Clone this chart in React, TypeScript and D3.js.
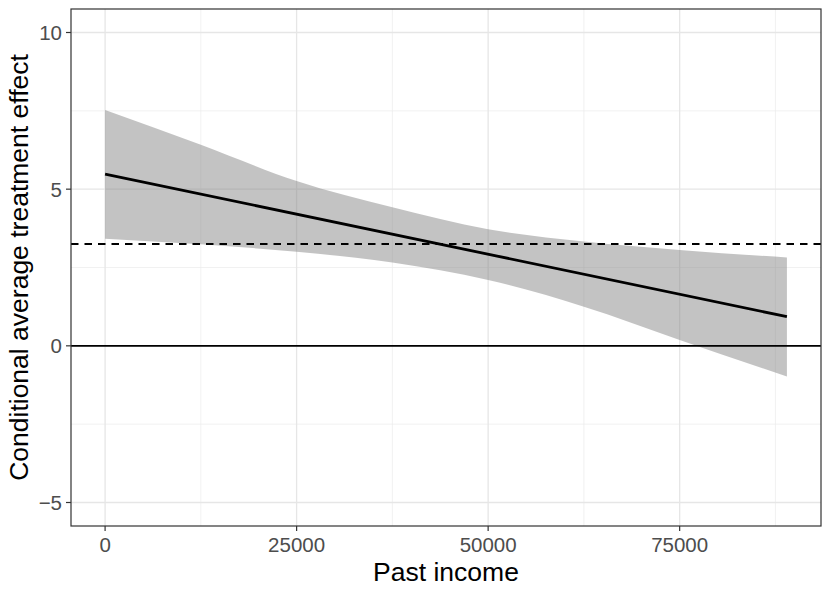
import React from "react";
import * as d3 from "d3";

// Data
const bandX = [0, 12500, 25000, 37500, 50000, 62500, 75000, 89000];
const bandUpper = [7.53, 6.42, 5.26, 4.42, 3.72, 3.33, 3.06, 2.82];
const bandLower = [3.42, 3.24, 3.0, 2.66, 2.1, 1.25, 0.19, -0.98];
const lineX = [0, 89000];
const lineY = [5.48, 0.93];
const averageEffect = 3.25;
const xTicks = [0, 25000, 50000, 75000];
const xMinorTicks = [12500, 37500, 62500, 87500];
const yTicks = [-5, 0, 5, 10];
const yMinorTicks = [-2.5, 2.5, 7.5];
const xTitle = "Past income";
const yTitle = "Conditional average treatment effect";

const W = 830;
const H = 593;
const P = { left: 71, right: 821, top: 9, bottom: 526 };
const FONT = "'Liberation Sans', Arial, Helvetica, sans-serif";

export default function App() {
  const x = d3.scaleLinear().domain([-4450, 93450]).range([P.left, P.right]);
  const y = d3.scaleLinear().domain([-5.75, 10.75]).range([P.bottom, P.top]);

  const band = bandX.map((v, i) => ({ x: v, lo: bandLower[i], hi: bandUpper[i] }));
  const area = d3
    .area<{ x: number; lo: number; hi: number }>()
    .curve(d3.curveMonotoneX)
    .x((d) => x(d.x))
    .y0((d) => y(d.lo))
    .y1((d) => y(d.hi));
  const lineData = lineX.map((v, i) => [v, lineY[i]] as [number, number]);
  const line = d3
    .line<[number, number]>()
    .x((d) => x(d[0]))
    .y((d) => y(d[1]));

  return (
    <svg
      width={W}
      height={H}
      style={{ position: "absolute", left: 0, top: 0, display: "block", background: "#fff" }}
      fontFamily={FONT}
    >
      <rect x={0} y={0} width={W} height={H} fill="#fff" />
      {/* minor grid */}
      {xMinorTicks.map((t) => (
        <line key={"xm" + t} x1={x(t)} x2={x(t)} y1={P.top} y2={P.bottom} stroke="#ebebeb" strokeWidth={0.7} />
      ))}
      {yMinorTicks.map((t) => (
        <line key={"ym" + t} x1={P.left} x2={P.right} y1={y(t)} y2={y(t)} stroke="#ebebeb" strokeWidth={0.7} />
      ))}
      {/* major grid */}
      {xTicks.map((t) => (
        <line key={"xg" + t} x1={x(t)} x2={x(t)} y1={P.top} y2={P.bottom} stroke="#e6e6e6" strokeWidth={1.3} />
      ))}
      {yTicks.map((t) => (
        <line key={"yg" + t} x1={P.left} x2={P.right} y1={y(t)} y2={y(t)} stroke="#e6e6e6" strokeWidth={1.3} />
      ))}
      {/* ribbon */}
      <path d={area(band) || ""} fill="#7f7f7f" fillOpacity={0.47} />
      {/* zero line */}
      <line x1={P.left} x2={P.right} y1={y(0)} y2={y(0)} stroke="#000" strokeWidth={1.8} />
      {/* average effect dashed */}
      <line
        x1={P.left}
        x2={P.right}
        y1={y(averageEffect)}
        y2={y(averageEffect)}
        stroke="#000"
        strokeWidth={1.8}
        strokeDasharray="7.5 6"
      />
      {/* CATE line */}
      <path d={line(lineData) || ""} fill="none" stroke="#000" strokeWidth={2.8} />
      {/* panel border */}
      <rect
        x={P.left}
        y={P.top}
        width={P.right - P.left}
        height={P.bottom - P.top}
        fill="none"
        stroke="#333333"
        strokeWidth={1.2}
      />
      {/* x axis */}
      {xTicks.map((t) => (
        <g key={"xt" + t}>
          <line x1={x(t)} x2={x(t)} y1={P.bottom} y2={P.bottom + 5} stroke="#333333" strokeWidth={1.2} />
          <text x={x(t)} y={552} textAnchor="middle" fontSize={20.5} fill="#4d4d4d">
            {t}
          </text>
        </g>
      ))}
      {/* y axis */}
      {yTicks.map((t) => (
        <g key={"yt" + t}>
          <line x1={P.left - 5} x2={P.left} y1={y(t)} y2={y(t)} stroke="#333333" strokeWidth={1.2} />
          <text x={P.left - 9} y={y(t)} dy="0.36em" textAnchor="end" fontSize={20.5} fill="#4d4d4d">
            {t < 0 ? "\u2212" + Math.abs(t) : String(t)}
          </text>
        </g>
      ))}
      <text x={(P.left + P.right) / 2} y={581} textAnchor="middle" fontSize={26.5} fill="#000">
        {xTitle}
      </text>
      <text
        transform={`translate(28,${(P.top + P.bottom) / 2}) rotate(-90)`}
        textAnchor="middle"
        fontSize={26.5}
        fill="#000"
      >
        {yTitle}
      </text>
    </svg>
  );
}
